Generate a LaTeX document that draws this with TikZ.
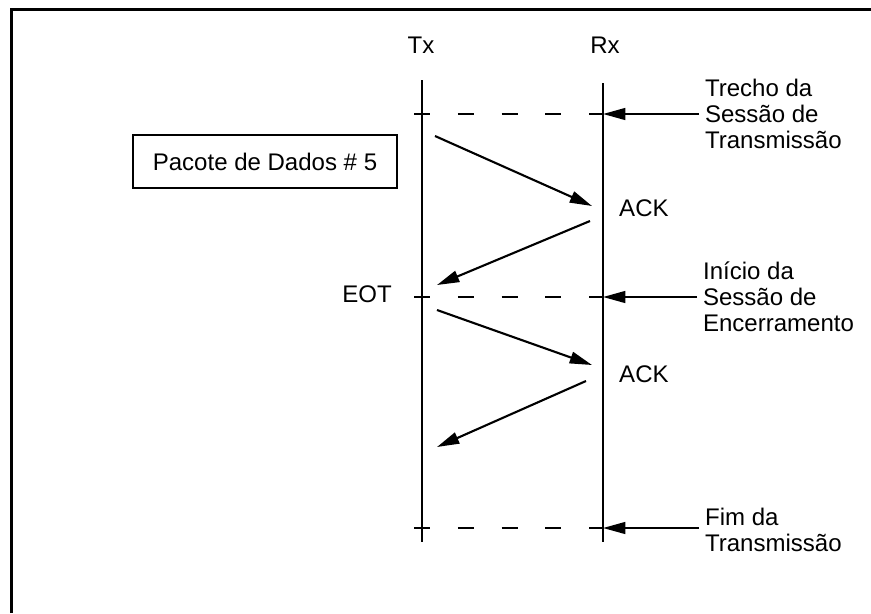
\documentclass[tikz,border=0pt]{standalone}
\usepackage{fontspec}
\setmainfont{Liberation Sans}
\usetikzlibrary{arrows.meta}

\begin{document}
\begin{tikzpicture}[x=0.03cm,y=-0.03cm,
    texto/.style={font=\fontsize{20.5}{22}\selectfont, inner sep=0pt},
    nota/.style={texto, anchor=west, align=left, inner xsep=5pt},
    seta/.style={-{Triangle[length=19pt,width=10pt]}, line width=1.8pt},
    vida/.style={line width=1.9pt},
    trecho/.style={line width=1.8pt, dash pattern=on 13.6pt off 23.8pt}]
    \useasboundingbox (0,0) rectangle (871,613);
    % Moldura (so bordas de cima e da esquerda)
    \draw[line width=2.6pt] (11.5,613) -- (11.5,9.5) -- (871,9.5);
    % Linhas de Tx e Rx
    \coordinate (tx-a) at (422,80);
    \coordinate (tx-b) at (422,542);
    \coordinate (rx-a) at (603,83);
    \coordinate (rx-b) at (603,542);
    \draw[vida] (tx-a) -- (tx-b);
    \draw[vida] (rx-a) -- (rx-b);
    \node[texto] (tx) at (421,45) {Tx};
    \node[texto] (rx) at (605,45) {Rx};
    % Trechos tracejados e notas com setas para Rx
    \foreach \nome/\y in {ini/114, eot/297, fim/528} {
        \coordinate (tx-\nome) at (414,\y);
        \coordinate (rx-\nome) at (603,\y);
        \draw[trecho] (tx-\nome) -- (rx-\nome);
    }
    \node[nota] (n-ini) at (699,114) {Trecho da\\Sessão de\\Transmissão};
    \node[nota] (n-eot) at (697,297) {Início da\\Sessão de\\Encerramento};
    \node[nota] (n-fim) at (699,530) {Fim da\\Transmissão};
    \draw[seta] (n-ini.west |- rx-ini) -- (rx-ini);
    \draw[seta] (n-eot.west |- rx-eot) -- (rx-eot);
    \draw[seta] (n-fim.west |- rx-fim) -- (rx-fim);
    % Caixa do pacote
    \node[texto, draw, line width=1.6pt, minimum width=226pt, minimum height=45pt]
        (pacote) at (265,161.5) {Pacote de Dados \# 5};
    % Mensagens entre Tx e Rx
    \coordinate (m1-a) at (435,136);
    \coordinate (m1-b) at (592,206);
    \coordinate (m2-a) at (590,221);
    \coordinate (m2-b) at (437,285);
    \coordinate (m3-a) at (437,310);
    \coordinate (m3-b) at (592,365);
    \coordinate (m4-a) at (586,381);
    \coordinate (m4-b) at (437,447);
    \draw[seta] (m1-a) -- (m1-b);
    \draw[seta] (m2-a) -- (m2-b);
    \draw[seta] (m3-a) -- (m3-b);
    \draw[seta] (m4-a) -- (m4-b);
    \node[texto, anchor=west] (ack1) at (619,208) {ACK};
    \node[texto, anchor=west] (ack2) at (619,374) {ACK};
    \node[texto] (eot) at (367,294) {EOT};
\end{tikzpicture}
\end{document}
